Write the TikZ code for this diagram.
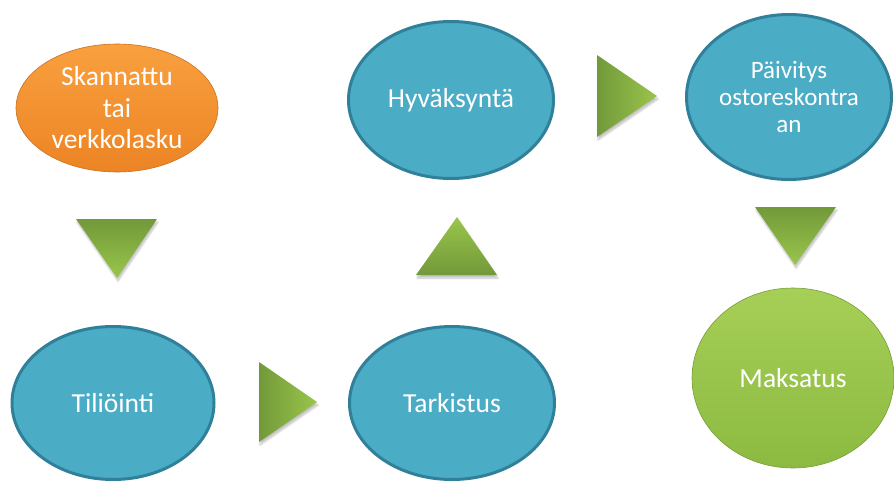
\documentclass[tikz,border=0pt]{standalone}
\usepackage{fontspec}
\setmainfont{Carlito}
\usetikzlibrary{shapes.geometric,shadows.blur}
\definecolor{stepblue}{HTML}{4BACC6}
\definecolor{stepedge}{HTML}{31809A}
\definecolor{orangetop}{HTML}{F9A03F}
\definecolor{orangebot}{HTML}{EC8424}
\definecolor{greentop}{HTML}{A6CF57}
\definecolor{greenbot}{HTML}{8CBA41}
\definecolor{arrowdark}{HTML}{72993A}
\definecolor{arrowlight}{HTML}{9AC54B}
\tikzset{
  phase/.style={ellipse, inner sep=0pt, align=center, text=white, font=\fontsize{27.5}{31.5}\selectfont},
  bluephase/.style={phase, fill=stepblue, draw=stepedge, line width=3pt},
  arrowshadow/.style={blur shadow={shadow xshift=1pt, shadow yshift=-3pt, shadow opacity=25, shadow blur steps=6}}
}
\begin{document}
\begin{tikzpicture}[x=1pt, y=-1pt]
\useasboundingbox (0,0) rectangle (894,482);
% Top row left to right
\node[phase, minimum width=202pt, minimum height=128pt, top color=orangetop, bottom color=orangebot, draw=orangebot!85!black, line width=0.6pt] (skan) at (117,108) {Skannattu\\tai\\verkkolasku};
\node[bluephase, minimum width=205pt, minimum height=157pt] (hyva) at (451,100) {Hyväksyntä};
\node[bluephase, minimum width=205pt, minimum height=165pt, font=\fontsize{25}{27}\selectfont] (paiv) at (789,97) {Päivitys\\ostoreskontra\\an};

% Bottom row left to right
\node[bluephase, minimum width=202pt, minimum height=153pt] (tili) at (113,403) {Tiliöinti};
\node[bluephase, minimum width=205pt, minimum height=153pt] (tark) at (452,403) {Tarkistus};
\node[phase, minimum width=202pt, minimum height=180pt, top color=greentop, bottom color=greenbot, draw=greenbot!85!black, line width=0.6pt] (maks) at (793,378) {Maksatus};

% Arrows between the phases
\shade[arrowshadow, top color=arrowdark, bottom color=arrowlight] (76,219) -- (157,219) -- (117,278) -- cycle;
\shade[arrowshadow, left color=arrowdark, right color=arrowlight] (259,362) -- (317,402) -- (259,442) -- cycle;
\shade[arrowshadow, top color=arrowlight, bottom color=arrowdark] (416,275) -- (457,217) -- (497,275) -- cycle;
\shade[arrowshadow, left color=arrowdark, right color=arrowlight] (597,55) -- (657,96) -- (597,137) -- cycle;
\shade[arrowshadow, top color=arrowdark, bottom color=arrowlight] (755,207) -- (836,207) -- (795,265) -- cycle;
\end{tikzpicture}
\end{document}
